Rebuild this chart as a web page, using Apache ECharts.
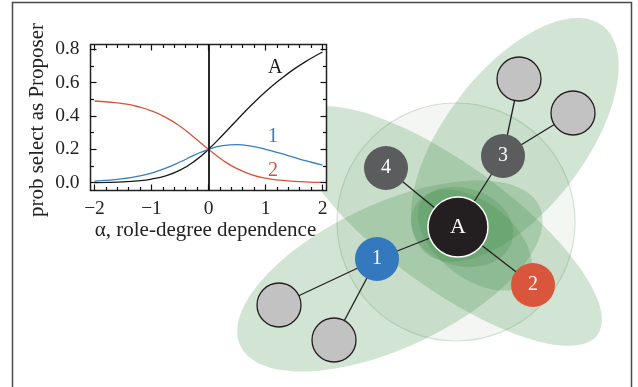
<!DOCTYPE html>
<html>
<head>
<meta charset="utf-8">
<script src="https://cdn.jsdelivr.net/npm/echarts@6/dist/echarts.min.js"></script>
<style>
  html, body { margin: 0; background: #fff; }
  #main { width: 638px; height: 387px; }
</style>
</head>
<body>
<div id="main"></div>
<script>
// inset: probability of being picked as Proposer vs alpha
const alphaValues = [-2, -1.75, -1.5, -1.25, -1, -0.75, -0.5, -0.25, 0, 0.25, 0.5, 0.75, 1, 1.25, 1.5, 1.75, 2]
const probA = [0.001, 0.002, 0.005, 0.011, 0.022, 0.041, 0.075, 0.128, 0.200, 0.286, 0.376, 0.464, 0.545, 0.617, 0.681, 0.736, 0.784]
const prob1 = [0.009, 0.015, 0.024, 0.038, 0.058, 0.087, 0.124, 0.165, 0.200, 0.222, 0.228, 0.219, 0.200, 0.177, 0.152, 0.128, 0.106]
const prob2 = [0.490, 0.484, 0.474, 0.457, 0.431, 0.392, 0.338, 0.271, 0.200, 0.135, 0.084, 0.049, 0.027, 0.015, 0.008, 0.004, 0.002]
const xTicks = [-2, -1, 0, 1, 2]
const yTicks = [0, 0.2, 0.4, 0.6, 0.8]

// network diagram (canvas units)
const nodeNames = ['A', '1', '2', '3', '4', 'g1', 'g2', 'g3', 'g4']
const nodeX = [458, 377, 533, 503, 386, 519, 573, 279, 334]
const nodeY = [227, 259, 285, 156, 168, 79, 113, 305, 340]
const nodeKind = ['focal', 'blue', 'red', 'dark', 'dark', 'grey', 'grey', 'grey', 'grey']
const edges = [['A', '1'], ['A', '2'], ['A', '3'], ['A', '4'], ['3', 'g1'], ['3', 'g2'], ['1', 'g3'], ['1', 'g4']]

// neighbourhood ellipses: [cx, cy, semi-major, semi-minor, angle deg]
const ellipses = [
  [515, 140, 144, 70, 52.5],
  [390, 276, 165, 72, 25],
  [448, 226, 185, 62, -36],
  [462, 227, 52, 39, -15],
  [475, 240, 66, 38, -38]
]
const halo = [[456, 222, 119]]

const serif = 'Liberation Serif'
const kindStyle = {
  focal: { color: '#231f20', borderColor: '#fff', borderWidth: 1.5, size: 60, font: 22 },
  blue: { color: '#3478be', borderColor: '#3478be', borderWidth: 0, size: 44, font: 20 },
  red: { color: '#d9553b', borderColor: '#d9553b', borderWidth: 0, size: 44, font: 20 },
  dark: { color: '#5b5c5e', borderColor: '#5b5c5e', borderWidth: 0, size: 44, font: 20 },
  grey: { color: '#c2c2c2', borderColor: '#231f20', borderWidth: 1.3, size: 44, font: 0 }
}

const chart = echarts.init(document.getElementById('main'))

const minus = v => (v < 0 ? '\u2212' + Math.abs(v) : String(v))

const tickAxisBase = {
  type: 'value',
  gridIndex: 1,
  z: 6,
  axisLine: { show: false, onZero: false },
  splitLine: { show: false },
  axisTick: { show: true, inside: true, length: 6, lineStyle: { color: '#111', width: 1.2 } },
  minorTick: { show: true, length: 3.5, lineStyle: { color: '#111', width: 1.2 } }
}

const option = {
  animation: false,
  backgroundColor: '#fff',
  graphic: [{
    type: 'rect',
    z: 0,
    shape: { x: 12.5, y: 2.5, width: 619, height: 420 },
    style: { fill: 'none', stroke: '#4a4a4a', lineWidth: 1.5 }
  }],
  grid: [
    // plot frame of the inset
    { left: 90.5, top: 44.5, width: 236, height: 146, show: true, z: 3,
      backgroundColor: '#fff', borderColor: '#222', borderWidth: 1.5 },
    // tick grid (-2..2, 0..0.8)
    { left: 94.5, top: 49.3, width: 228, height: 133.4 },
    // network canvas
    { left: 0, top: 0, width: 638, height: 387 }
  ],
  xAxis: [
    { type: 'value', gridIndex: 0, min: -2.07, max: 2.07, show: false },
    Object.assign({}, tickAxisBase, {
      position: 'bottom', offset: 7.8, min: -2, max: 2, interval: 1,
      minorTick: Object.assign({}, tickAxisBase.minorTick, { splitNumber: 5 }),
      axisLabel: { color: '#222', fontFamily: serif, fontSize: 19.5, margin: 8.5,
        formatter: v => (xTicks.indexOf(v) >= 0 ? minus(v) : '') },
      name: '\u03b1, role-degree dependence', nameLocation: 'middle', nameGap: 28,
      nameTextStyle: { color: '#222', fontFamily: serif, fontSize: 21, padding: [0, 6, 0, 0] }
    }),
    Object.assign({}, tickAxisBase, {
      position: 'top', offset: 4.8, min: -2, max: 2, interval: 1,
      minorTick: Object.assign({}, tickAxisBase.minorTick, { splitNumber: 5 }),
      axisLabel: { show: false }
    }),
    { type: 'value', gridIndex: 2, min: 0, max: 638, show: false }
  ],
  yAxis: [
    { type: 'value', gridIndex: 0, min: -0.0468, max: 0.8288, show: false },
    Object.assign({}, tickAxisBase, {
      position: 'left', offset: 4, min: 0, max: 0.8, interval: 0.2,
      minorTick: Object.assign({}, tickAxisBase.minorTick, { splitNumber: 2 }),
      axisLabel: { color: '#222', fontFamily: serif, fontSize: 19.5, margin: 11,
        formatter: v => (yTicks.some(t => Math.abs(t - v) < 1e-9) ? v.toFixed(1) : '') },
      name: 'prob select as Proposer', nameLocation: 'middle', nameGap: 43,
      nameTextStyle: { color: '#222', fontFamily: serif, fontSize: 21, padding: [0, 8, 0, 0] }
    }),
    Object.assign({}, tickAxisBase, {
      position: 'right', offset: 4, min: 0, max: 0.8, interval: 0.2,
      minorTick: Object.assign({}, tickAxisBase.minorTick, { splitNumber: 2 }),
      axisLabel: { show: false }
    }),
    { type: 'value', gridIndex: 2, min: 0, max: 387, inverse: true, show: false }
  ],
  series: [
    {
      type: 'custom',
      xAxisIndex: 3, yAxisIndex: 3,
      z: 1,
      silent: true,
      data: halo,
      renderItem: function (params, api) {
        const c = api.coord([api.value(0), api.value(1)])
        const r = api.size([api.value(2), 0])[0]
        return {
          type: 'circle',
          shape: { cx: c[0], cy: c[1], r: r },
          style: { fill: '#f3f6f2', stroke: '#d3e1d3', lineWidth: 1.2 }
        }
      }
    },
    {
      type: 'custom',
      xAxisIndex: 3, yAxisIndex: 3,
      z: 1,
      silent: true,
      data: ellipses,
      renderItem: function (params, api) {
        const c = api.coord([api.value(0), api.value(1)])
        const s = api.size([api.value(2), api.value(3)])
        return {
          type: 'ellipse',
          x: c[0], y: c[1],
          rotation: api.value(4) * Math.PI / 180,
          shape: { cx: 0, cy: 0, rx: s[0], ry: s[1] },
          style: { fill: 'rgba(60,140,70,0.23)' }
        }
      }
    },
    {
      type: 'graph',
      coordinateSystem: 'cartesian2d',
      xAxisIndex: 3, yAxisIndex: 3,
      layout: 'none',
      z: 3,
      silent: true,
      data: nodeNames.map((n, i) => {
        const k = kindStyle[nodeKind[i]]
        return {
          name: n,
          value: [nodeX[i], nodeY[i]],
          symbolSize: k.size,
          itemStyle: { color: k.color, borderColor: k.borderColor, borderWidth: k.borderWidth },
          label: { show: k.font > 0, fontSize: k.font }
        }
      }),
      links: edges.map(e => ({ source: e[0], target: e[1] })),
      lineStyle: { color: '#231f20', width: 1.3, opacity: 1, curveness: 0 },
      label: { color: '#fff', fontFamily: serif, formatter: '{b}' }
    },
    {
      type: 'line',
      xAxisIndex: 0, yAxisIndex: 0,
      z: 4,
      data: alphaValues.map((a, i) => [a, probA[i]]),
      smooth: true, showSymbol: false,
      lineStyle: { color: '#1a1a1a', width: 1.3 },
      markLine: {
        silent: true, symbol: 'none', animation: false,
        label: { show: false },
        lineStyle: { color: '#111', width: 1.8, type: 'solid' },
        data: [{ xAxis: 0 }]
      },
      markPoint: {
        symbol: 'circle', symbolSize: 0,
        label: { show: true, formatter: 'A', color: '#1a1a1a', fontFamily: serif, fontSize: 20, position: 'inside' },
        data: [{ coord: [1.17, 0.688] }]
      }
    },
    {
      type: 'line',
      xAxisIndex: 0, yAxisIndex: 0,
      z: 4,
      data: alphaValues.map((a, i) => [a, prob1[i]]),
      smooth: true, showSymbol: false,
      lineStyle: { color: '#3a7cc0', width: 1.3 },
      markPoint: {
        symbol: 'circle', symbolSize: 0,
        label: { show: true, formatter: '1', color: '#3a7cc0', fontFamily: serif, fontSize: 20, position: 'inside' },
        data: [{ coord: [1.13, 0.274] }]
      }
    },
    {
      type: 'line',
      xAxisIndex: 0, yAxisIndex: 0,
      z: 4,
      data: alphaValues.map((a, i) => [a, prob2[i]]),
      smooth: true, showSymbol: false,
      lineStyle: { color: '#d9533a', width: 1.3 },
      markPoint: {
        symbol: 'circle', symbolSize: 0,
        label: { show: true, formatter: '2', color: '#d9533a', fontFamily: serif, fontSize: 20, position: 'inside' },
        data: [{ coord: [1.13, 0.072] }]
      }
    }
  ]
}

chart.setOption(option)
</script>
</body>
</html>
